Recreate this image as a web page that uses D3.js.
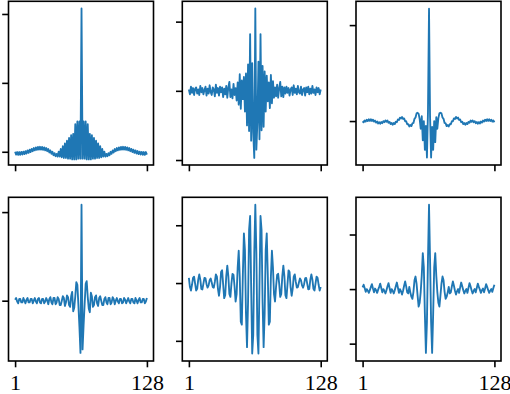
<!DOCTYPE html>
<html>
<head>
<meta charset="utf-8">
<script src="https://cdn.jsdelivr.net/npm/d3@7"></script>
<style>
  body { margin: 0; background: #fff; }
  svg { display: block; }
  .tick-label { font-family: "Liberation Serif", "DejaVu Serif", serif; font-size: 22px; fill: #000; }
</style>
</head>
<body>
<div id="container"></div>
<script>
// x ticks shared by every panel
const xTicks = [1, 128]

// y ticks for each panel (no labels are shown)
const yTicks1 = [0, 0.5, 1]
const yTicks2 = [-1, 0, 1]
const yTicks3 = [0, 1]
const yTicks4 = [0, 1]
const yTicks5 = [-1, 0, 1]
const yTicks6 = [-1, 0, 1]

// y limits of each panel
const yLim1 = [-0.096, 1.092]
const yLim2 = [-1.072, 1.294]
const yLim3 = [-0.458, 1.248]
const yLim4 = [-0.681, 1.167]
const yLim5 = [-1.349, 1.484]
const yLim6 = [-1.318, 1.682]

// 128 samples per panel
const sig1 = [
  0.000, -0.021, -0.002, -0.022, -0.002, -0.022, -0.001, -0.020, 0.001, -0.017, 0.005, -0.013, 0.010, -0.008, 0.015, -0.002,
  0.021, 0.004, 0.027, 0.010, 0.032, 0.014, 0.035, 0.016, 0.036, 0.016, 0.035, 0.014, 0.032, 0.010, 0.027, 0.004,
  0.020, -0.005, 0.010, -0.015, 0.000, -0.025, -0.010, -0.032, -0.015, -0.035, 0.000, -0.035, 0.020, -0.040, 0.040, -0.045,
  0.060, -0.045, 0.080, -0.050, 0.100, -0.050, 0.120, -0.055, 0.130, -0.055, 0.200, -0.055, 0.220, -0.050, 0.220, -0.050,
  1.040,
  -0.050, 0.220, -0.050, 0.220, -0.055, 0.200, -0.055, 0.130, -0.055, 0.120, -0.050, 0.100, -0.050, 0.080, -0.045, 0.060,
  -0.045, 0.040, -0.040, 0.020, -0.035, 0.000, -0.035, -0.015, -0.032, -0.010, -0.025, 0.000, -0.015, 0.010, -0.005, 0.020,
  0.004, 0.027, 0.010, 0.032, 0.014, 0.035, 0.016, 0.036, 0.016, 0.035, 0.014, 0.032, 0.010, 0.027, 0.004, 0.021,
  -0.002, 0.015, -0.008, 0.010, -0.013, 0.005, -0.017, 0.001, -0.020, -0.001, -0.022, -0.002, -0.022, -0.002, -0.021
]

const sig2 = [
  0.02, -0.05, 0.06, -0.03, 0.04, -0.06, 0.03, 0.05, -0.04, 0.02, -0.06, 0.07, -0.02, 0.04, -0.05, 0.01,
  0.06, -0.07, 0.03, -0.04, 0.08, -0.02, -0.06, 0.05, 0.02, -0.08, 0.09, -0.03, 0.04, -0.07, 0.06, -0.02,
  0.05, -0.09, 0.03,
  -0.05, 0.07, -0.10, 0.05, 0.13, -0.09, 0.02, -0.11, 0.10, -0.06, 0.04, -0.14, 0.12, -0.20, 0.24, -0.26, 0.15,
  -0.12, 0.20, -0.30, 0.25, -0.50, 0.38, -0.58, 0.82, -0.72, 0.40, -0.60, -0.97,
  1.19,
  -0.85, -0.45, 0.42, -0.70, 0.82, -0.57, 0.36, -0.52, 0.28, -0.30, 0.22, -0.15, 0.12, -0.25, 0.23, -0.18,
  0.14, -0.10, 0.05, -0.08, 0.09, -0.10, 0.04, 0.13, -0.08, 0.06, -0.09, 0.05, -0.04,
  0.06, -0.03, 0.04, -0.07, 0.02, 0.05, -0.06, 0.08, -0.03, 0.03, -0.05, 0.07, -0.02, -0.04, 0.06, -0.06,
  0.02, 0.04, -0.07, 0.05, -0.02, 0.06, -0.05, 0.03, -0.04, 0.07, -0.03, 0.02, -0.06, 0.05, -0.02, 0.04,
  -0.05, 0.02
]

const sig3 = [
  -0.002, -0.013, 0.006, -0.006, 0.013, 0.000, 0.018, 0.002, 0.018, 0.001, 0.014, -0.006, 0.005, -0.016, -0.005, -0.025,
  -0.011, -0.028, -0.010, -0.022, -0.001, -0.012, 0.007, -0.008, 0.005, -0.018, -0.009, -0.031, -0.020, -0.038, -0.021, -0.032,
  -0.007, -0.012, 0.016, 0.011, 0.036, 0.026, 0.043, 0.022, 0.028, -0.002, -0.002, -0.034, -0.032, -0.056, -0.042, -0.053,
  -0.024, -0.020, 0.023, 0.037, 0.080, 0.086, 0.075, 0.020, -0.080, 0.050, -0.200, 0.000, -0.300, -0.050, -0.380, 0.100,
  1.170,
  0.050, -0.380, -0.060, -0.300, 0.000, -0.220, 0.040, -0.080, 0.030, 0.080, 0.086, 0.080, 0.037, 0.023, -0.020, -0.024,
  -0.053, -0.042, -0.056, -0.032, -0.034, -0.002, -0.002, 0.028, 0.022, 0.043, 0.026, 0.036, 0.011, 0.016, -0.012, -0.007,
  -0.032, -0.021, -0.038, -0.020, -0.031, -0.009, -0.018, 0.005, -0.008, 0.007, -0.012, -0.001, -0.022, -0.010, -0.028, -0.011,
  -0.025, -0.005, -0.016, 0.005, -0.006, 0.014, 0.001, 0.018, 0.002, 0.018, 0.000, 0.013, -0.006, 0.006, -0.013
]

const sig4 = [
  0.01, 0.03, -0.01, -0.03, 0.02, 0.02, -0.02, -0.02, 0.03, 0.00, -0.03, 0.01, 0.03, -0.02, -0.02, 0.02,
  0.02, -0.03, 0.00, 0.03, -0.01, -0.03, 0.02, 0.03, -0.02, -0.03, 0.02, 0.02, -0.03, -0.01, 0.03, 0.00,
  -0.04, 0.02, 0.04, -0.02, -0.04, 0.03, 0.03, -0.04, -0.02, 0.04, 0.02, -0.05,
  -0.05, 0.00, 0.05, 0.03, -0.06, -0.02, 0.06, 0.04, -0.05, -0.07, 0.05, 0.10, -0.12, -0.08, 0.05, 0.21,
  0.18, -0.05, -0.30, -0.59,
  1.083,
  -0.55, -0.28, -0.04, 0.19, 0.22, 0.04, -0.09, -0.13, 0.09, 0.05, -0.07, -0.05, 0.04, 0.06, -0.03, -0.06,
  0.03, 0.05, 0.00, -0.05,
  -0.05, 0.02, 0.04, -0.02, -0.04, 0.03, 0.03, -0.04, -0.02, 0.04, 0.02, -0.04, 0.00, 0.03, -0.01, -0.03,
  0.02, 0.02, -0.03, -0.02, 0.03, 0.01, -0.03, 0.00, 0.03, -0.01, -0.03, 0.02, 0.02, -0.02, -0.03, 0.03,
  0.00, -0.03, 0.01, 0.03, -0.02, -0.02, 0.02, 0.02, -0.03, -0.01, 0.03
]

const sig5 = [
  0.09, -0.07, -0.13, -0.03, 0.09, 0.11, -0.01, -0.13, -0.10, 0.06, 0.15, 0.06, -0.10, -0.11, -0.01, 0.09,
  0.08, -0.02, -0.08, -0.04, 0.05, 0.08, 0.01, -0.07, -0.08, 0.02, 0.15, 0.11, -0.10, -0.22, -0.07, 0.19,
  0.22, -0.02, -0.26, -0.21, 0.12, 0.30, 0.12, -0.19, -0.24, -0.01, 0.16, 0.14, -0.06, -0.32, -0.19, 0.27,
  0.56, 0.11, -0.67, -0.72, 0.15, 0.86, 0.57, -0.53, -1.11, -0.33, 0.92, 1.16, -0.07, -1.22, -0.90, 0.53,
  1.355,
  0.53, -0.90, -1.22, -0.07, 1.16, 0.92, -0.33, -1.11, -0.53, 0.57, 0.86, 0.15, -0.72, -0.67, 0.11, 0.56,
  0.27, -0.19, -0.32, -0.06, 0.14, 0.16, -0.01, -0.24, -0.19, 0.12, 0.30, 0.12, -0.21, -0.26, -0.02, 0.22,
  0.19, -0.07, -0.22, -0.10, 0.11, 0.15, 0.02, -0.08, -0.07, 0.01, 0.08, 0.05, -0.04, -0.08, -0.02, 0.08,
  0.09, -0.01, -0.11, -0.10, 0.06, 0.15, 0.06, -0.10, -0.13, -0.01, 0.11, 0.09, -0.03, -0.13, -0.07
]

const sig6 = [
  0.03, 0.08, 0.02, -0.05, 0.00, -0.03, -0.07, -0.02, 0.04, 0.09, 0.01, -0.06, 0.01, -0.02, -0.07, -0.01,
  0.04, 0.10, 0.02, -0.06, 0.00, -0.03, -0.08, -0.02, 0.05, 0.11, 0.02, -0.07, 0.00, -0.03, -0.08, -0.02,
  0.05, 0.12, 0.03, -0.07, 0.00, -0.04, -0.10, -0.03, 0.06, 0.14, 0.05, -0.06, -0.08,
  0.04, -0.06, -0.14, -0.18, -0.05, 0.16, 0.23, 0.10, -0.12, -0.32, -0.25, -0.05, 0.25, 0.66, 0.40, -0.45,
  -1.17, -0.60, 0.55,
  1.545,
  0.55, -0.60, -1.17, -0.45, 0.40, 0.66, 0.25, -0.05, -0.25, -0.32, -0.12, 0.10, 0.23, 0.16, -0.05, -0.18,
  -0.14, -0.06, 0.04,
  -0.08, -0.06, 0.05, 0.14, 0.06, -0.03, -0.10, -0.04, 0.00, -0.07, 0.03, 0.12, 0.05, -0.02, -0.08, -0.03,
  0.00, -0.07, 0.02, 0.11, 0.05, -0.02, -0.08, -0.03, 0.00, -0.06, 0.02, 0.10, 0.04, -0.01, -0.07, -0.02,
  0.01, -0.06, 0.01, 0.09, 0.04, -0.02, -0.07, -0.03, 0.00, -0.05, 0.02, 0.08
]

const width = 510
const height = 394
const panelW = 145
const panelH = 163.7
const colX = [8.5, 182.3, 356]
const rowY = [1.3, 197.3]
const tickLen = 6.3
const blue = '#1f77b4'

const panels = [
  {data: sig1, lim: yLim1, ticks: yTicks1, col: 0, row: 0},
  {data: sig2, lim: yLim2, ticks: yTicks2, col: 1, row: 0},
  {data: sig3, lim: yLim3, ticks: yTicks3, col: 2, row: 0},
  {data: sig4, lim: yLim4, ticks: yTicks4, col: 0, row: 1},
  {data: sig5, lim: yLim5, ticks: yTicks5, col: 1, row: 1},
  {data: sig6, lim: yLim6, ticks: yTicks6, col: 2, row: 1},
]

const svg = d3.select('#container')
  .append('svg')
  .attr('width', width)
  .attr('height', height)

// matplotlib-like 5% margin on x
const xPad = (128 - 1) * 0.05

panels.forEach(p => {
  const x0 = colX[p.col]
  const y0 = rowY[p.row]

  const xScale = d3.scaleLinear()
    .domain([1 - xPad, 128 + xPad])
    .range([0, panelW])
  const yScale = d3.scaleLinear()
    .domain(p.lim)
    .range([panelH, 0])

  const g = svg.append('g')
    .attr('transform', `translate(${x0}, ${y0})`)

  const clipId = `clip-${p.col}-${p.row}`
  g.append('clipPath').attr('id', clipId)
    .append('rect')
    .attr('width', panelW)
    .attr('height', panelH)

  const line = d3.line()
    .x((d, i) => xScale(i + 1))
    .y(d => yScale(d))

  g.append('path')
    .datum(p.data)
    .attr('clip-path', `url(#${clipId})`)
    .attr('fill', 'none')
    .attr('stroke', blue)
    .attr('stroke-width', 1.85)
    .attr('stroke-linejoin', 'round')
    .attr('d', line)

  const xAxis = d3.axisBottom(xScale)
    .tickValues(xTicks)
    .tickSize(tickLen)
    .tickFormat(p.row === 1 ? d3.format('d') : '')
  const yAxis = d3.axisLeft(yScale)
    .tickValues(p.ticks)
    .tickSize(tickLen)
    .tickFormat('')

  const gx = g.append('g')
    .attr('transform', `translate(0, ${panelH})`)
    .call(xAxis)
  const gy = g.append('g').call(yAxis)

  ;[gx, gy].forEach(ax => {
    ax.select('.domain').remove()
    ax.selectAll('.tick line').attr('stroke', '#000').attr('stroke-width', 1.6)
  })
  gx.selectAll('.tick text')
    .attr('class', 'tick-label')
    .attr('y', tickLen + 23)
    .attr('dy', 0)

  // frame
  g.append('rect')
    .attr('width', panelW)
    .attr('height', panelH)
    .attr('fill', 'none')
    .attr('stroke', '#000')
    .attr('stroke-width', 1.6)
})
</script>
</body>
</html>
